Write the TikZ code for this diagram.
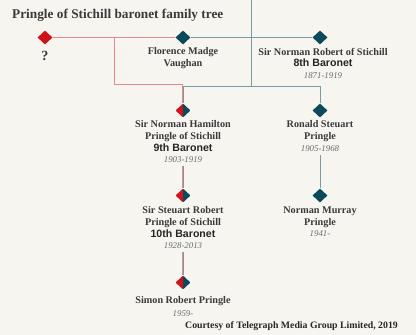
\documentclass[tikz,border=0pt]{standalone}
\usepackage{fontspec}
\setmainfont{Liberation Serif}
\setsansfont{Liberation Sans}
\usetikzlibrary{shapes.geometric,positioning}

\definecolor{tgred}{HTML}{D0121B}
\definecolor{tgteal}{HTML}{0B4A5A}
\definecolor{tgbg}{HTML}{F7F5F0}
\definecolor{tgtext}{HTML}{3A3A3A}
\definecolor{tgdate}{HTML}{6A6A6A}

\tikzset{
	kin/.style={diamond, minimum width=15pt, minimum height=14pt, inner sep=0pt},
	redkin/.style={kin, fill=tgred},
	tealkin/.style={kin, fill=tgteal},
	halfkin/.style={kin, path picture={
		\fill[tgred] (path picture bounding box.south west) rectangle (path picture bounding box.north);
		\fill[tgteal] (path picture bounding box.south) rectangle (path picture bounding box.north east);}},
	redline/.style={tgred!50, line width=1pt},
	tealline/.style={tgteal!55, line width=1pt},
	who/.style={align=center, inner sep=0pt, text=tgtext, font=\fontsize{10.2}{11.6}\selectfont\bfseries},
}
\newcommand{\baronet}[1]{{\sffamily\bfseries\fontsize{10.6}{11.6}\selectfont\color{black!85}#1}}
\newcommand{\lived}[1]{{\mdseries\itshape\fontsize{8.8}{11.6}\selectfont\color{tgdate}#1}}

\begin{document}
\begin{tikzpicture}[x=1pt,y=-1pt]
	\fill[tgbg] (0,0) rectangle (416,334);
	\node[anchor=west, inner sep=0pt, text=tgtext, font=\fontsize{13.3}{15}\selectfont\bfseries] (title) at (12,15) {Pringle of Stichill baronet family tree};
	
	% diamonds
	\node[redkin] (q) at (45,37) {};
	\node[tealkin] (fmv) at (183,37) {};
	\node[tealkin] (nr8) at (320,37) {};
	\node[halfkin] (nh9) at (183,110) {};
	\node[tealkin] (rsp) at (320,110) {};
	\node[halfkin] (ss10) at (183,195) {};
	\node[tealkin] (nmp) at (320,195) {};
	\node[halfkin] (srp) at (183,282) {};
	
	% names
	\node[who, font=\fontsize{14}{14}\selectfont\bfseries, below=6pt of q] (qname) {?};
	\node[who, below=3pt of fmv] (fmvname) {Florence Madge\\Vaughan};
	\node[who, below=3pt of nr8, xshift=3pt] (nr8name) {Sir Norman Robert of Stichill\\\baronet{8th Baronet}\\\lived{1871-1919}};
	\node[who, below=3pt of nh9] (nh9name) {Sir Norman Hamilton\\Pringle of Stichill\\\baronet{9th Baronet}\\\lived{1903-1919}};
	\node[who, below=3pt of rsp] (rspname) {Ronald Steuart\\Pringle\\\lived{1905-1968}};
	\node[who, below=4pt of ss10] (ss10name) {Sir Steuart Robert\\Pringle of Stichill\\\baronet{10th Baronet}\\\lived{1928-2013}};
	\node[who, below=4pt of nmp] (nmpname) {Norman Murray\\Pringle\\\lived{1941-}};
	\node[who, below=7pt of srp, font=\fontsize{10.2}{13}\selectfont\bfseries] (srpname) {Simon Robert Pringle\\\lived{1959-}};
	
	\node[anchor=east, inner sep=0pt, text=black!85, font=\fontsize{9.8}{11}\selectfont\bfseries] (credit) at (398,326) {Courtesy of Telegraph Media Group Limited, 2019};
	
	% lines
	\coordinate (uptop) at (251,0);
	\coordinate (redbend) at (114,37);
	\coordinate (rjoin) at (182.5,84);
	\coordinate (tjoin) at (183.5,86);
	\draw[redline] (q) -- (fmv);
	\draw[tealline] (fmv) -- (nr8);
	\draw[redline] (redbend) |- (rjoin) -- (rjoin |- nh9.north);
	\draw[tealline] (uptop) |- (tjoin) -- (tjoin |- nh9.north);
	\draw[tealline] (uptop |- tjoin) -| (rsp.north);
	
	\draw[redline] ([xshift=-0.5pt,yshift=-3pt]nh9name.south) -- ([xshift=-0.5pt]ss10.north);
	\draw[tealline] ([xshift=0.5pt,yshift=-3pt]nh9name.south) -- ([xshift=0.5pt]ss10.north);
	\draw[redline] ([xshift=-0.5pt,yshift=-3pt]ss10name.south) -- ([xshift=-0.5pt]srp.north);
	\draw[tealline] ([xshift=0.5pt,yshift=-3pt]ss10name.south) -- ([xshift=0.5pt]srp.north);
	\draw[tealline] ([yshift=-4pt]rspname.south) -- (nmp.north);
\end{tikzpicture}
\end{document}
